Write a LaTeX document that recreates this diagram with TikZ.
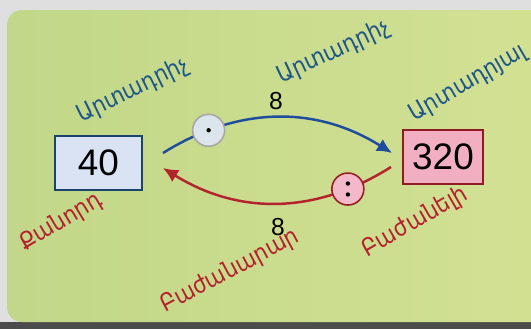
\documentclass[tikz,border=0pt]{standalone}
\usepackage{fontspec}
\setmainfont{DejaVu Sans}
\newfontfamily\armfont{DejaVu Sans Condensed}
\newfontfamily\digitfont{Liberation Sans}
\usetikzlibrary{arrows.meta,positioning}
\definecolor{panelleft}{HTML}{C2D789}
\definecolor{panelright}{HTML}{D3E193}
\definecolor{factorblue}{HTML}{1D568A}
\definecolor{arrowblue}{HTML}{1F4C9C}
\definecolor{arrowred}{HTML}{B3232B}
\definecolor{labelred}{HTML}{B5202C}
\definecolor{boxblue}{HTML}{D9E3F3}
\definecolor{boxpink}{HTML}{F2AFC2}
\definecolor{circblue}{HTML}{DCE4EC}
\definecolor{circpink}{HTML}{F3B9CB}

\begin{document}
\begin{tikzpicture}[x=0.02cm, y=-0.02cm,
        numbox/.style={rectangle, draw, line width=0.9pt, minimum height=1.08cm, inner sep=0pt, font=\digitfont\fontsize{21}{24}\selectfont},
        opcirc/.style={circle, draw, line width=0.9pt, minimum size=0.64cm, inner sep=0pt},
        arrow/.style={-{Latex[length=3mm, width=2.8mm]}, line width=1.4pt},
        bluelabel/.style={text=factorblue, font=\armfont\fontsize{13.5}{16}\selectfont, inner sep=0pt},
        redlabel/.style={text=labelred, font=\armfont\fontsize{13.5}{16}\selectfont, inner sep=0pt},
        numlabel/.style={font=\digitfont\fontsize{14}{16}\selectfont, inner sep=0pt}
    ]
        % Background
        \useasboundingbox (0,0) rectangle (531,329);
        \fill[gray!25] (0,0) rectangle (531,329);
        \fill[black!70] (0,322) rectangle (531,329);
        \shade[left color=panelleft, right color=panelright, rounded corners=0.3cm] (7,10) rectangle (560,322);

        % Blocks
        \node[numbox, fill=boxblue, draw=factorblue!80!black, minimum width=1.74cm] (mult) at (98.5,163) {40};
        \node[numbox, fill=boxpink, draw=arrowred!80!black, minimum width=1.6cm] (prod) at (443,157) {320};

        % Arrow ends
        \coordinate (bstart) at (163,153);
        \coordinate (bend) at (392,153);
        \coordinate (rstart) at (391,167);
        \coordinate (rend) at (163,168);

        % Arrows
        \draw[arrow, arrowblue] (bstart) to[bend left=32] node[pos=0.2, opcirc, fill=circblue, draw=gray!70] (times) {} (bend);
        \draw[arrow, arrowred] (rstart) to[bend left=32] node[pos=0.19, opcirc, fill=circpink, draw=arrowred!85!black] (divide) {} (rend);
        \fill (times.center) circle (2.2);
        \fill ([yshift=-0.11cm]divide.center) circle (2.2);
        \fill ([yshift=0.11cm]divide.center) circle (2.2);

        % Numbers
        \node[numlabel] (topeight) at (276,101) {8};
        \node[numlabel] (boteight) at (278,227) {8};

        % Labels
        \node[bluelabel, rotate=26] (lfactor) at (133,90) {Արտադրիչ};
        \node[bluelabel, rotate=25] (tfactor) at (334,52) {Արտադրիչ};
        \node[bluelabel, rotate=30] (product) at (468,83) {Արտադրյալ};
        \node[redlabel, rotate=31] (quot) at (61,222) {Քանորդ};
        \node[redlabel, rotate=28] (divisor) at (230,271) {Բաժանարար};
        \node[redlabel, rotate=30] (dividend) at (415,222) {Բաժանելի};
    \end{tikzpicture}
\end{document}
